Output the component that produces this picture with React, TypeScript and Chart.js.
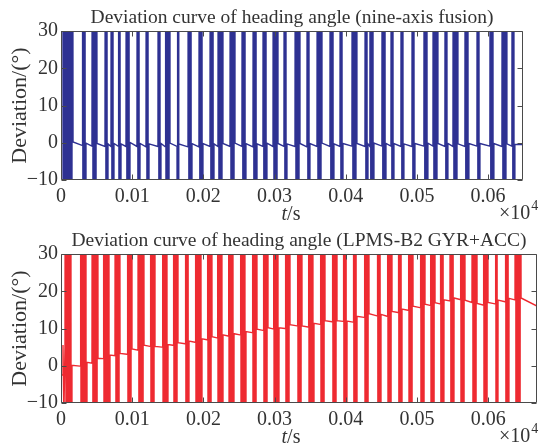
import React, { useEffect, useRef } from 'react';
import { Chart, registerables } from 'chart.js';

Chart.register(...registerables);

const FONT = '"Liberation Serif", "Times New Roman", serif';
const TEXT = '#333333';
const AXIS = '#4a4a4a';
const BLUE = '#2e3192';
const RED = '#ee2a31';

// time in seconds, axis labelled in units of 10^4 s
const xTickValues = [0, 100, 200, 300, 400, 500, 600];
const yTickValues = [-10, 0, 10, 20, 30];
const WRAP = 180; // heading wraps at ±180°, drawn beyond the visible range

// ---- nine-axis fusion (top) ----
const topEndTime = 649;
const topInitT = [0, 1.4];
const topInitV = [-1.0, -1.0];
const topStart = [1.4, 29.5, 43.5, 61.8, 70.2, 80.1, 91.3, 106.7, 119.4, 136.2, 146.1, 163.0, 178.4, 193.8, 209.3, 220.5, 237.4, 254.2, 269.7, 283.7, 297.8, 313.2, 328.7, 345.5, 359.6, 377.8, 391.9, 408.7, 427.0, 433.9, 450.8, 463.5, 477.5, 493.0, 509.8, 522.5, 539.3, 550.6, 567.4, 584.3, 602.5, 619.4, 633.4];
const topEnd = [16.9, 35.1, 50.6, 66.0, 74.4, 84.3, 96.9, 111.0, 123.6, 140.4, 153.1, 165.7, 184.0, 199.4, 214.9, 227.5, 244.4, 259.8, 275.3, 289.3, 304.8, 317.4, 335.7, 349.7, 366.6, 383.4, 396.1, 415.7, 431.2, 439.6, 456.5, 467.7, 481.7, 497.2, 515.4, 529.5, 543.5, 557.6, 573.0, 588.5, 608.1, 626.4, 637.6];
const topAfter = [0.2, -0.1, -0.2, -0.3, -0.2, -0.3, 0.1, -0.2, -0.3, -0.2, -0.1, -0.3, -0.2, -0.2, -0.3, -0.2, -0.1, -0.2, -0.3, -0.1, -0.2, -0.3, -0.2, -0.2, -0.1, -0.3, -0.2, -0.2, -0.3, -0.1, -0.2, -0.2, -0.3, -0.2, -0.1, -0.2, -0.2, -0.3, -0.2, -0.2, -0.2, -0.3, -0.4];
const topBefore = [-0.7, -0.9, -1.0, -1.0, -0.9, -1.0, -1.0, -1.1, -1.0, -1.0, -1.0, -1.1, -1.1, -1.0, -1.0, -1.0, -1.0, -1.1, -1.0, -1.0, -1.0, -1.0, -1.1, -1.0, -1.0, -1.0, -0.9, -1.0, -1.0, -0.9, -0.9, -1.0, -1.0, -0.9, -0.9, -1.0, -1.0, -1.0, -0.9, -0.9, -1.0, -0.9, -0.5];

// ---- LPMS-B2 GYR+ACC (bottom) ----
const botEndTime = 668.5;
const botInitT = [0, 1.5, 2.8, 4.0, 5.6];
const botInitV = [-2.5, -2.5, 5.6, -14, 5.0];
const botStart = [5.6, 26.7, 43.5, 59.0, 75.8, 92.7, 108.1, 125.0, 141.9, 157.3, 174.2, 188.2, 205.1, 219.1, 234.6, 251.4, 268.3, 283.7, 297.8, 314.6, 331.5, 346.9, 363.8, 380.6, 396.1, 410.1, 425.6, 443.8, 457.9, 473.3, 487.4, 504.2, 518.3, 532.3, 546.3, 560.4, 577.2, 592.7, 609.6, 623.6, 637.6];
const botEnd = [15.4, 36.5, 52.0, 68.8, 82.9, 99.7, 116.6, 132.0, 150.3, 164.3, 179.8, 198.0, 212.1, 227.5, 243.0, 259.8, 275.3, 290.7, 306.2, 321.6, 338.5, 355.3, 370.8, 387.6, 401.7, 415.7, 432.6, 449.4, 464.9, 478.9, 494.4, 511.2, 525.3, 537.9, 552.0, 567.4, 584.3, 599.7, 613.8, 629.2, 646.1];
const botAfter = [0.1, 0.9, 2.0, 2.9, 3.3, 4.5, 5.5, 5.2, 5.7, 6.2, 6.6, 7.2, 7.8, 8.3, 8.6, 9.2, 9.8, 10.2, 10.2, 11.0, 10.7, 11.4, 12.1, 12.1, 12.0, 13.3, 14.0, 13.8, 14.6, 15.2, 16.0, 16.5, 16.9, 17.7, 18.2, 17.6, 16.7, 17.0, 17.6, 18.1, 18.2];
const botBefore = [-0.1, 0.7, 1.9, 2.7, 3.1, 4.2, 5.2, 5.0, 5.5, 5.9, 6.3, 7.0, 7.5, 8.0, 8.3, 8.9, 9.5, 9.9, 10.0, 10.7, 10.4, 11.1, 11.8, 11.9, 11.7, 13.0, 13.4, 13.3, 14.3, 14.9, 15.6, 16.2, 16.6, 17.4, 17.8, 17.0, 16.3, 16.6, 17.2, 17.7, 16.0];

function buildSeries(initT: number[], initV: number[], starts: number[], ends: number[], after: number[], before: number[], endT: number) {
  const pts: { x: number; y: number }[] = initT.map((t, i) => ({ x: t, y: initV[i] }));
  starts.forEach((a, i) => {
    const b = ends[i];
    const n = Math.max(4, Math.round((b - a) / 1.0));
    const d = (b - a) / (n + 1);
    for (let k = 1; k <= n; k++) pts.push({ x: a + k * d, y: k % 2 ? WRAP : -WRAP });
    pts.push({ x: b, y: after[i] });
    const next = i + 1 < starts.length ? starts[i + 1] : endT;
    pts.push({ x: next, y: before[i] });
  });
  return pts;
}

const framePlugin = {
  id: 'frame',
  afterDatasetsDraw(chart: any) {
    const { ctx, chartArea, scales } = chart;
    const { left, right, top, bottom } = chartArea;
    const L = Math.round(left) + 0.5, R = Math.round(right) - 0.5, T = Math.round(top) + 0.5, B = Math.round(bottom) - 0.5;
    ctx.save();
    ctx.strokeStyle = AXIS;
    ctx.lineWidth = 1;
    ctx.beginPath();
    ctx.rect(L, T, R - L, B - T);
    const tl = 5;
    xTickValues.forEach((v) => {
      const px = Math.round(scales.x.getPixelForValue(v)) + 0.5;
      ctx.moveTo(px, B); ctx.lineTo(px, B - tl);
      ctx.moveTo(px, T); ctx.lineTo(px, T + tl);
    });
    yTickValues.forEach((v) => {
      const py = Math.round(scales.y.getPixelForValue(v)) + 0.5;
      ctx.moveTo(L, py); ctx.lineTo(L + tl, py);
      ctx.moveTo(R, py); ctx.lineTo(R - tl, py);
    });
    ctx.stroke();
    ctx.restore();
  },
  afterDraw(chart: any) {
    const { ctx, chartArea } = chart;
    const base = chartArea.bottom + 40;
    ctx.save();
    ctx.fillStyle = TEXT;
    ctx.textBaseline = 'alphabetic';
    ctx.textAlign = 'left';
    // x-axis label "t/s" with italic t
    ctx.font = `italic 20px ${FONT}`;
    const wt = ctx.measureText('t').width;
    ctx.font = `20px ${FONT}`;
    const ws = ctx.measureText('/s').width;
    const cx = 291;
    const x0 = cx - (wt + ws) / 2;
    ctx.font = `italic 20px ${FONT}`;
    ctx.fillText('t', x0, base);
    ctx.font = `20px ${FONT}`;
    ctx.fillText('/s', x0 + wt, base);
    // exponent label ×10^4
    const ex = 499;
    ctx.font = `20px ${FONT}`;
    ctx.fillText('\u00d710', ex, base - 1);
    const w10 = ctx.measureText('\u00d710').width;
    ctx.font = `14px ${FONT}`;
    ctx.fillText('4', ex + w10 + 1, base - 10);
    ctx.restore();
  },
};

function makeConfig(title: string, data: { x: number; y: number }[], color: string, xMax: number, padRight: number, titleTop: number, titleBottom: number): any {
  return {
    type: 'line',
    data: {
      datasets: [
        {
          data,
          borderColor: color,
          borderWidth: 1.4,
          pointRadius: 0,
          tension: 0,
          fill: false,
        },
      ],
    },
    options: {
      animation: false,
      responsive: false,
      events: [],
      layout: { padding: { left: 0, right: padRight, top: 0, bottom: 0 } },
      plugins: {
        legend: { display: false },
        tooltip: { enabled: false },
        title: {
          display: true,
          text: title,
          color: TEXT,
          fullSize: false,
          font: { family: FONT, size: 19.5, weight: 'normal' },
          padding: { top: titleTop, bottom: titleBottom },
        },
      },
      scales: {
        x: {
          type: 'linear',
          min: 0,
          max: xMax,
          grid: { display: false, drawTicks: false },
          border: { display: false },
          afterBuildTicks: (s: any) => {
            s.ticks = xTickValues.map((v) => ({ value: v }));
          },
          afterFit: (s: any) => {
            s.height = 44;
          },
          ticks: {
            color: TEXT,
            font: { family: FONT, size: 20 },
            padding: 5,
            maxRotation: 0,
            autoSkip: false,
            callback: (v: number) => (v === 0 ? '0' : (v / 10000).toFixed(2)),
          },
        },
        y: {
          min: -10,
          max: 30,
          grid: { display: false, drawTicks: false },
          border: { display: false },
          afterBuildTicks: (s: any) => {
            s.ticks = yTickValues.map((v) => ({ value: v }));
          },
          afterFit: (s: any) => {
            s.width = 61;
          },
          ticks: {
            color: TEXT,
            font: { family: FONT, size: 20 },
            padding: 3,
            callback: (v: number) => String(v).replace('-', '\u2212'),
          },
          title: {
            display: true,
            text: 'Deviation/(\u00b0)',
            color: TEXT,
            font: { family: FONT, size: 22 },
            padding: { top: 7, bottom: 0 },
          },
        },
      },
    },
    plugins: [framePlugin],
  };
}

export default function App() {
  const topRef = useRef<HTMLCanvasElement | null>(null);
  const botRef = useRef<HTMLCanvasElement | null>(null);

  useEffect(() => {
    const topData = buildSeries(topInitT, topInitV, topStart, topEnd, topAfter, topBefore, topEndTime);
    const botData = buildSeries(botInitT, botInitV, botStart, botEnd, botAfter, botBefore, botEndTime);
    const c1 = new Chart(topRef.current as HTMLCanvasElement, makeConfig('Deviation curve of heading angle (nine-axis fusion)', topData, BLUE, topEndTime, 16, 6, 1.6));
    const c2 = new Chart(botRef.current as HTMLCanvasElement, makeConfig('Deviation curve of heading angle (LPMS-B2 GYR+ACC)', botData, RED, botEndTime, 2, 5, 1.6));
    return () => {
      c1.destroy();
      c2.destroy();
    };
  }, []);

  return (
    <div style={{ position: 'absolute', left: 0, top: 0, width: 539, height: 447, background: '#ffffff' }}>
      <canvas ref={topRef} width={539} height={224} style={{ position: 'absolute', left: 0, top: 0, width: 539, height: 224 }} />
      <canvas ref={botRef} width={539} height={223} style={{ position: 'absolute', left: 0, top: 224, width: 539, height: 223 }} />
    </div>
  );
}
